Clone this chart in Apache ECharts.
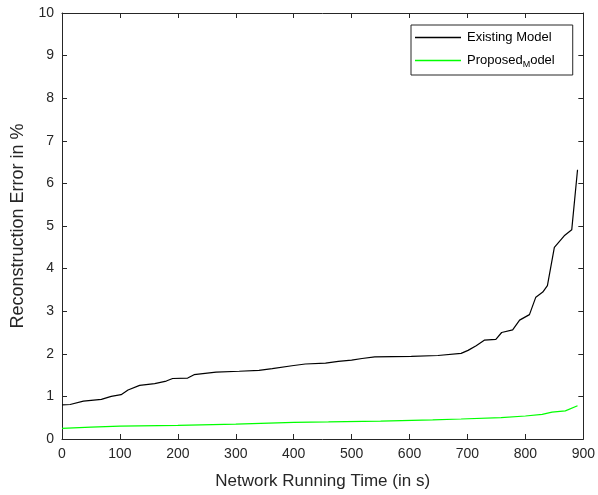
<!DOCTYPE html>
<html>
<head>
<meta charset="utf-8">
<script src="https://cdn.jsdelivr.net/npm/echarts@6/dist/echarts.min.js"></script>
<style>
html,body{margin:0;padding:0;background:#fff;}
#chart{width:598px;height:495px;}
</style>
</head>
<body>
<div id="chart"></div>
<script>
// Data
var existingX = [0,14,37,68,85,102,114,134,160,180,191,217,228,266,306,340,363,397,420,455,477,500,518,540,603,649,689,701,715,729,749,759,778,790,807,818,830,838,850,867,880,890];
var existingY = [0.80,0.81,0.89,0.93,1.00,1.04,1.15,1.26,1.30,1.36,1.42,1.43,1.51,1.57,1.59,1.61,1.65,1.72,1.76,1.78,1.82,1.85,1.89,1.93,1.94,1.96,2.01,2.08,2.19,2.32,2.34,2.50,2.56,2.79,2.92,3.33,3.45,3.60,4.50,4.77,4.91,6.32];
var proposedX = [0,50,100,200,300,400,460,550,640,689,758,800,829,846,869,890];
var proposedY = [0.25,0.28,0.30,0.32,0.35,0.39,0.40,0.42,0.45,0.47,0.50,0.54,0.58,0.63,0.66,0.78];
var seriesNames = ['Existing Model', 'Proposed_Model'];
var xTitle = 'Network Running Time (in s)';
var yTitle = 'Reconstruction Error in %';

function pairs(xs, ys){ return xs.map(function(x,i){ return [x, ys[i]]; }); }

var axisColor = '#262626';
var font = 'Liberation Sans, Arial, sans-serif';
var chart = echarts.init(document.getElementById('chart'), null, {renderer:'canvas'});
var tickCommon = {show:true, inside:true, length:5, lineStyle:{color:axisColor, width:1}};
chart.setOption({
  animation:false,
  backgroundColor:'#fff',
  grid:{left:62, right:13, top:13, bottom:55.5, containLabel:false},
  legend:{
    orient:'vertical', left:411, top:25,
    data:seriesNames,
    icon:'rect', itemWidth:46, itemHeight:1.3, itemGap:10,
    padding:[6,18,6,4],
    borderColor:axisColor, borderWidth:1, borderRadius:0, backgroundColor:'#fff',
    textStyle:{fontFamily:font, fontSize:13, color:'#000', padding:[0,0,0,1],
      rich:{sub:{fontFamily:font, fontSize:9, color:'#000', verticalAlign:'bottom', padding:[8,0,0,0]},
            n:{fontFamily:font, fontSize:13, color:'#000'}}},
    formatter:function(name){
      var i = name.indexOf('_');
      if(i < 0) return '{n|' + name + '}';
      return '{n|' + name.slice(0,i) + '}{sub|' + name.charAt(i+1) + '}{n|' + name.slice(i+2) + '}';
    }
  },
  xAxis:[
    {type:'value', min:0, max:900, interval:100, position:'bottom',
     name:xTitle, nameLocation:'middle', nameGap:34,
     nameTextStyle:{fontFamily:font, fontSize:17, color:axisColor},
     axisLine:{show:true, lineStyle:{color:axisColor, width:1}},
     axisTick:tickCommon, splitLine:{show:false},
     axisLabel:{fontFamily:font, fontSize:14, color:axisColor, margin:8}},
    {type:'value', min:0, max:900, interval:100, position:'top',
     axisLine:{show:true, onZero:false, lineStyle:{color:axisColor, width:1}},
     axisTick:tickCommon, splitLine:{show:false}, axisLabel:{show:false}}
  ],
  yAxis:[
    {type:'value', min:0, max:10, interval:1, position:'left',
     name:yTitle, nameLocation:'middle', nameGap:31, nameRotate:90,
     nameTextStyle:{fontFamily:font, fontSize:18, color:axisColor},
     axisLine:{show:true, lineStyle:{color:axisColor, width:1}},
     axisTick:tickCommon, splitLine:{show:false},
     axisLabel:{fontFamily:font, fontSize:14, color:axisColor, margin:8}},
    {type:'value', min:0, max:10, interval:1, position:'right',
     axisLine:{show:true, onZero:false, lineStyle:{color:axisColor, width:1}},
     axisTick:tickCommon, splitLine:{show:false}, axisLabel:{show:false}}
  ],
  series:[
    {name:seriesNames[0], type:'line', data:pairs(existingX, existingY), showSymbol:false, symbol:'none',
     lineStyle:{color:'#000', width:1.2}, itemStyle:{color:'#000'}, z:3},
    {name:seriesNames[1], type:'line', data:pairs(proposedX, proposedY), showSymbol:false, symbol:'none',
     lineStyle:{color:'#00ff00', width:1.2}, itemStyle:{color:'#00ff00'}, z:2}
  ]
});
</script>
</body>
</html>
